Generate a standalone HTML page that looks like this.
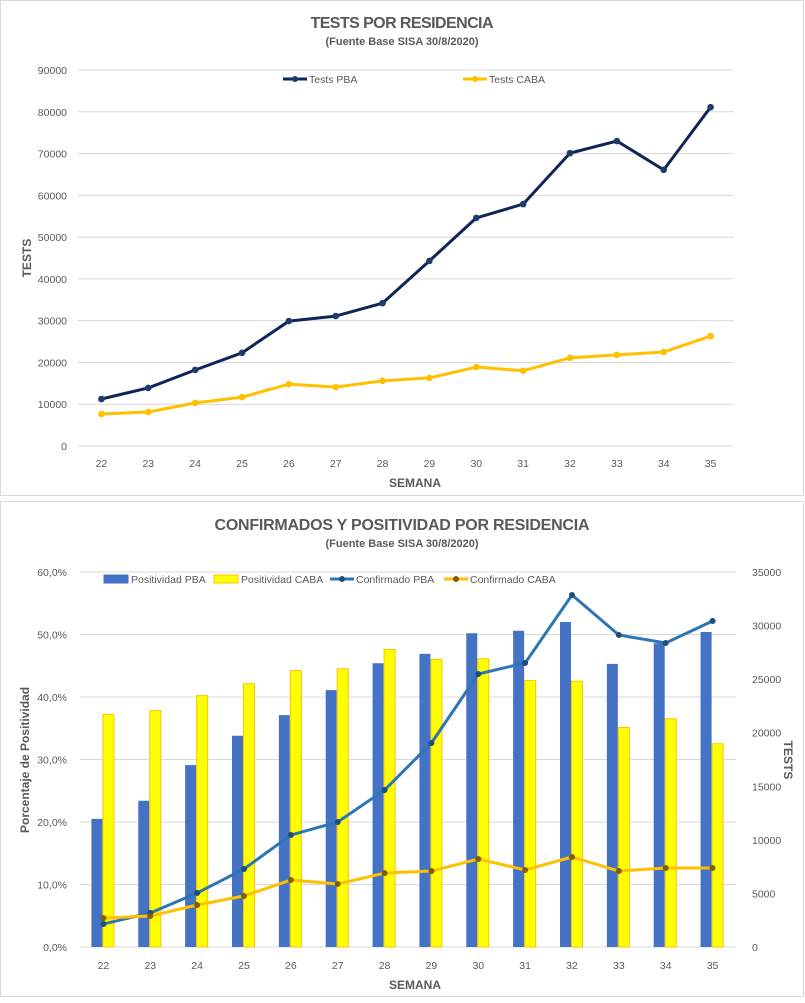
<!DOCTYPE html>
<html><head><meta charset="utf-8"><style>
body{margin:0;background:#fff;width:805px;height:998px;overflow:hidden;font-family:"Liberation Sans",sans-serif}
svg text{font-family:"Liberation Sans",sans-serif}
</style></head><body>
<svg id="svg" width="805" height="998" xmlns="http://www.w3.org/2000/svg">
<rect x="0.5" y="0.5" width="803" height="495" fill="#fff" stroke="#d9d9d9"/>
<rect x="0.5" y="501.5" width="803" height="495" fill="#fff" stroke="#d9d9d9"/>
<text x="402" y="28" text-anchor="middle" font-size="16" font-weight="bold" fill="#595959" textLength="183">TESTS POR RESIDENCIA</text>
<text x="402" y="45" text-anchor="middle" font-size="11" font-weight="bold" fill="#595959">(Fuente Base SISA 30/8/2020)</text>
<text transform="translate(31,258) rotate(-90)" text-anchor="middle" font-size="12" font-weight="bold" fill="#595959">TESTS</text>
<text x="415" y="487" text-anchor="middle" font-size="12" font-weight="bold" fill="#595959">SEMANA</text>
<text x="402" y="530" text-anchor="middle" font-size="16" font-weight="bold" fill="#595959" textLength="375">CONFIRMADOS Y POSITIVIDAD POR RESIDENCIA</text>
<text x="402" y="547" text-anchor="middle" font-size="11" font-weight="bold" fill="#595959">(Fuente Base SISA 30/8/2020)</text>
<text transform="translate(29,760) rotate(-90)" text-anchor="middle" font-size="12" font-weight="bold" fill="#595959">Porcentaje de Positividad</text>
<text transform="translate(784,760) rotate(90)" text-anchor="middle" font-size="12" font-weight="bold" fill="#595959">TESTS</text>
<text x="415" y="989" text-anchor="middle" font-size="12" font-weight="bold" fill="#595959">SEMANA</text>
<g id="c1"></g><g id="c2"></g>
</svg>
<script>
const weeks=[22,23,24,25,26,27,28,29,30,31,32,33,34,35];
const testsPBA=[11250,13900,18200,22300,29900,31100,34200,44300,54600,57900,70100,73000,66100,81100];
const testsCABA=[7660,8140,10300,11700,14800,14100,15600,16300,18900,18000,21100,21800,22500,26300];
const ticks1=[0,10000,20000,30000,40000,50000,60000,70000,80000,90000];
const posPBA=[20.5,23.4,29.1,33.8,37.1,41.1,45.4,46.9,50.2,50.6,52.0,45.3,48.6,50.4];
const posCABA=[37.3,37.9,40.3,42.2,44.3,44.6,47.7,46.1,46.2,42.7,42.6,35.2,36.6,32.6];
const confPBA=[2150,3170,5040,7280,10450,11670,14650,19040,25480,26510,32850,29120,28370,30430];
const confCABA=[2700,2890,3920,4760,6250,5880,6900,7090,8210,7190,8400,7090,7370,7370];
const ticksPct=[0,10,20,30,40,50,60];
const ticksRight=[0,5000,10000,15000,20000,25000,30000,35000];
const NS="http://www.w3.org/2000/svg";
function mk(p,t,a){const e=document.createElementNS(NS,t);for(const k in a)e.setAttribute(k,a[k]);p.appendChild(e);return e;}
function txt(p,x,y,s,a){const e=mk(p,'text',Object.assign({x:x,y:y,'font-size':10.5,fill:'#595959'},a||{}));e.textContent=s;return e;}
const g1=document.getElementById('c1');
const L1=78,R1=734,T1=70,B1=446;
const x1=i=>L1+(i+0.5)*(R1-L1)/weeks.length;
const y1=v=>B1-v/90000*(B1-T1);
ticks1.forEach(t=>{
 const l=mk(g1,'line',{x1:L1,x2:R1,y1:y1(t),y2:y1(t),stroke:'#d9d9d9'});
 
 const tx=txt(g1,67,y1(t)+4,String(t),{'text-anchor':'end'});
 
});
weeks.forEach((w,i)=>{const tx=txt(g1,x1(i),467,String(w),{'text-anchor':'middle'});
 });
function series(g,vals,xf,yf,color,mcolor,name,r){
 const pl=mk(g,'polyline',{points:vals.map((v,i)=>xf(i)+','+yf(v)).join(' '),fill:'none',stroke:color,'stroke-width':3,'stroke-linejoin':'round'});
 
 vals.forEach((v,i)=>{const c=mk(g,'circle',{cx:xf(i),cy:yf(v),r:r||3.3,fill:mcolor});
 });
}
series(g1,testsPBA,x1,y1,'#0d2657','#1f3a6b','tests-pba');
series(g1,testsCABA,x1,y1,'#ffc000','#ffc000','tests-caba');
function legLine(g,x,y,color,mc,label,name){
 const l=mk(g,'line',{x1:x,x2:x+24,y1:y,y2:y,stroke:color,'stroke-width':3});
 mk(g,'circle',{cx:x+12,cy:y,r:3,fill:mc});
 const t=txt(g,x+26,y+4,label,{'font-size':10.5});
 
 
}
legLine(g1,283,79,'#0d2657','#1f3a6b','Tests PBA','legend-tests-pba');
legLine(g1,463,79,'#ffc000','#ffc000','Tests CABA','legend-tests-caba');
const g2=document.getElementById('c2');
const L2=80,R2=736,T2=572,B2=947;
const x2=i=>L2+(i+0.5)*(R2-L2)/weeks.length;
const yp=v=>B2-v/60*(B2-T2);
const yr=v=>B2-v/35000*(B2-T2);
ticksPct.forEach(t=>{
 const l=mk(g2,'line',{x1:L2,x2:R2,y1:yp(t),y2:yp(t),stroke:'#d9d9d9'});
 
 const tx=txt(g2,67,yp(t)+4,t.toFixed(1).replace('.',',')+'%',{'text-anchor':'end'});
 
});
ticksRight.forEach(t=>{const tx=txt(g2,752,yr(t)+4,String(t));
 });
weeks.forEach((w,i)=>{const tx=txt(g2,x2(i),969,String(w),{'text-anchor':'middle'});
 });
const bw=11;
posPBA.forEach((v,i)=>{const r=mk(g2,'rect',{x:x2(i)-bw-1,y:yp(v),width:bw,height:B2-yp(v),fill:'#4472c4'});
 });
posCABA.forEach((v,i)=>{const r=mk(g2,'rect',{x:x2(i)-0.5,y:yp(v)+0.5,width:bw,height:B2-yp(v)-0.5,fill:'#ffff00',stroke:'#ffc000','stroke-width':1});
 });
series(g2,confPBA,x2,yr,'#2e75b6','#1f4e79','conf-pba',3);
series(g2,confCABA,x2,yr,'#ffc000','#7f6000','conf-caba',3);
function legBox(x,fill,stroke,label,name){
 const r=mk(g2,'rect',{x:x,y:575,width:24,height:8,fill:fill,stroke:stroke});
 
 const t=txt(g2,x+27,583,label,{'font-size':10.5});
 
}
legBox(104,'#4472c4','#4472c4','Positividad PBA','legend-pos-pba');
legBox(214,'#ffff00','#ffc000','Positividad CABA','legend-pos-caba');
legLine(g2,330,579,'#2e75b6','#1f4e79','Confirmado PBA','legend-conf-pba');
legLine(g2,444,579,'#ffc000','#7f6000','Confirmado CABA','legend-conf-caba');
</script>
</body></html>
